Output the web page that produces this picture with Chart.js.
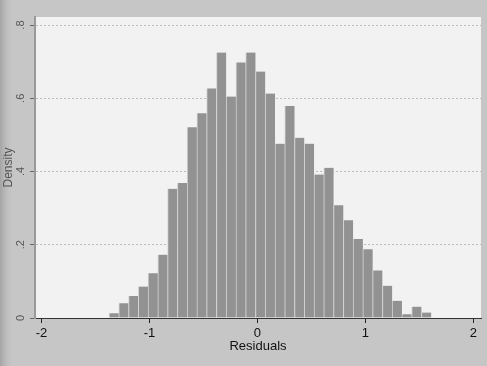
<!DOCTYPE html>
<html lang="en">
<head>
  <meta charset="UTF-8">
  <title>Residuals</title>
  <script src="https://cdn.jsdelivr.net/npm/chart.js"></script>
  <style>
    html, body { margin: 0; padding: 0; background: #c6c6c6; }
    #wrap { width: 487px; height: 366px; position: relative; }
  </style>
</head>
<body>
  <div id="wrap"><canvas id="residChart"></canvas></div>

  <script>
    // Histogram bins: left edge of the first bin and common bin width
    const binStart = -1.374;
    const binWidth = 0.0904;
    // Density of each bin, left to right
    const densities = [
      0.013, 0.040, 0.060, 0.086, 0.122, 0.173, 0.353, 0.369, 0.521, 0.559,
      0.627, 0.725, 0.605, 0.698, 0.725, 0.673, 0.613, 0.476, 0.579, 0.492,
      0.476, 0.392, 0.410, 0.308, 0.267, 0.216, 0.188, 0.130, 0.088, 0.047,
      0.010, 0.031, 0.015
    ];
    const xTicks = [-2, -1, 0, 1, 2];
    const yTicks = [0, 0.2, 0.4, 0.6, 0.8];
    const yTickLabels = ['0', '.2', '.4', '.6', '.8'];

    const FONT = "'Liberation Sans', Arial, sans-serif";

    // Gray page, darker left edge and light plot region
    const backdrop = {
      id: 'backdrop',
      beforeDraw(chart) {
        const { ctx, width, height, chartArea } = chart;
        ctx.save();
        ctx.fillStyle = '#c6c6c6';
        ctx.fillRect(0, 0, width, height);
        const g = ctx.createLinearGradient(0, 0, 14, 0);
        g.addColorStop(0, '#a4a4a4');
        g.addColorStop(1, 'rgba(198,198,198,0)');
        ctx.fillStyle = g;
        ctx.fillRect(0, 0, 14, height);
        ctx.fillStyle = '#f2f2f2';
        ctx.fillRect(chartArea.left, chartArea.top,
          chartArea.right - chartArea.left, chartArea.bottom - chartArea.top);
        ctx.restore();
      }
    };

    // Vertical y tick labels
    const yLabels = {
      id: 'yLabels',
      afterDraw(chart) {
        const { ctx } = chart;
        const y = chart.scales.y;
        ctx.save();
        ctx.fillStyle = '#555';
        ctx.font = '11px ' + FONT;
        ctx.textAlign = 'center';
        ctx.textBaseline = 'middle';
        yTicks.forEach((v, i) => {
          ctx.save();
          ctx.translate(y.left + 21, y.getPixelForValue(v));
          ctx.rotate(-Math.PI / 2);
          ctx.fillText(yTickLabels[i], 0, 0);
          ctx.restore();
        });
        ctx.restore();
      }
    };

    const ctx = document.getElementById('residChart').getContext('2d');
    new Chart(ctx, {
      type: 'bar',
      data: {
        datasets: [{
          label: 'Residuals',
          data: densities.map((d, i) => ({ x: binStart + binWidth * (i + 0.5), y: d })),
          backgroundColor: '#929292',
          borderColor: '#d0d0d0',
          borderWidth: { left: 1, right: 0, top: 0, bottom: 0 },
          barPercentage: 1,
          categoryPercentage: 1
        }]
      },
      options: {
        responsive: true,
        maintainAspectRatio: false,
        animation: false,
        devicePixelRatio: 1,
        layout: { padding: { top: 17, right: 6, left: 0, bottom: 0 } },
        plugins: {
          legend: { display: false },
          tooltip: { enabled: false }
        },
        scales: {
          x: {
            type: 'linear',
            min: -2.06,
            max: 2.07,
            offset: false,
            afterBuildTicks: s => { s.ticks = xTicks.map(v => ({ value: v })); },
            afterFit: s => { s.height = 48; },
            grid: {
              offset: false,
              drawOnChartArea: false,
              tickLength: 5,
              tickColor: '#222'
            },
            border: { color: '#333', width: 1 },
            ticks: {
              padding: 3,
              color: '#111',
              font: { family: FONT, size: 13 }
            },
            title: {
              display: true,
              text: 'Residuals',
              color: '#111',
              font: { family: FONT, size: 13 },
              padding: { top: 0, bottom: 12 }
            }
          },
          y: {
            min: 0,
            max: 0.822,
            afterBuildTicks: s => { s.ticks = yTicks.map(v => ({ value: v })); },
            afterFit: s => { s.width = 35; },
            grid: {
              color: c => (c.tick && c.tick.value === 0) ? 'rgba(0,0,0,0)' : '#bcbcbc',
              tickColor: '#666',
              tickLength: 5
            },
            border: { color: '#999', width: 2, dash: [2, 2] },
            ticks: { display: false },
            title: {
              display: true,
              text: 'Density',
              color: '#555',
              font: { family: FONT, size: 12 },
              padding: { top: 1, bottom: 0 }
            }
          }
        }
      },
      plugins: [backdrop, yLabels]
    });
  </script>
</body>
</html>
